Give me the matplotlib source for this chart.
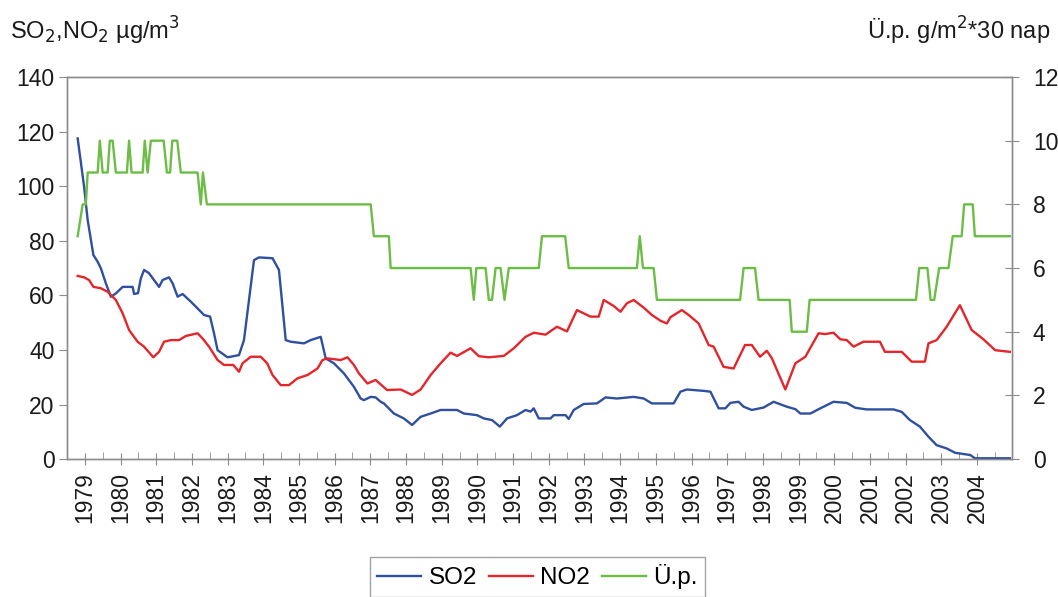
import matplotlib
matplotlib.use("Agg")
import matplotlib.pyplot as plt
from matplotlib.ticker import MultipleLocator

plt.rcParams['font.family'] = ['Liberation Sans', 'DejaVu Sans']

# SO2 (µg/m3), x in decimal years
so2_x = [1978.80, 1978.98, 1979.08, 1979.24, 1979.36, 1979.45, 1979.59, 1979.73,
         1979.87, 1980.06, 1980.34, 1980.38, 1980.49, 1980.57, 1980.66, 1980.80,
         1981.08, 1981.18, 1981.36, 1981.46, 1981.60, 1981.74, 1981.97, 1982.16,
         1982.34, 1982.51, 1982.62, 1982.72, 1983.00, 1983.32, 1983.46, 1983.74,
         1983.88, 1984.26, 1984.44, 1984.63, 1984.77, 1985.14, 1985.33, 1985.61,
         1985.75, 1985.98, 1986.26, 1986.54, 1986.73, 1986.82, 1987.01, 1987.15,
         1987.29, 1987.38, 1987.66, 1987.94, 1988.17, 1988.41, 1988.69, 1988.97,
         1989.43, 1989.62, 1989.99, 1990.18, 1990.41, 1990.63, 1990.83, 1991.11,
         1991.35, 1991.49, 1991.58, 1991.72, 1992.05, 1992.14, 1992.47, 1992.56,
         1992.70, 1992.98, 1993.35, 1993.59, 1993.91, 1994.38, 1994.66, 1994.89,
         1995.50, 1995.69, 1995.87, 1996.34, 1996.53, 1996.76, 1996.95, 1997.09,
         1997.32, 1997.46, 1997.69, 1998.02, 1998.30, 1998.67, 1998.91, 1999.05,
         1999.33, 1999.61, 1999.98, 2000.35, 2000.59, 2000.91, 2001.66, 2001.89,
         2002.12, 2002.40, 2002.64, 2002.87, 2003.15, 2003.39, 2003.81, 2003.94,
         2004.92]
so2_y = [117.5, 99.8, 87.6, 74.8, 72.3, 69.9, 64.4, 59.5,
         60.7, 63.1, 63.1, 60.5, 60.8, 66.2, 69.3, 68.1,
         63.1, 65.6, 66.6, 64.4, 59.5, 60.5, 57.7, 55.2,
         52.8, 52.2, 46.1, 39.9, 37.3, 38.1, 43.6, 72.9,
         73.9, 73.6, 69.3, 43.6, 43.0, 42.4, 43.6, 44.8,
         36.9, 35.1, 31.4, 26.5, 22.2, 21.6, 22.8, 22.6,
         21.0, 20.4, 16.7, 14.9, 12.5, 15.5, 16.7, 18.0,
         18.0, 16.7, 16.1, 14.9, 14.3, 11.9, 14.9, 16.1,
         18.0, 17.4, 18.6, 14.9, 14.9, 16.1, 16.1, 14.7,
         18.0, 20.2, 20.4, 22.6, 22.2, 22.8, 22.2, 20.4,
         20.4, 24.7, 25.5, 25.0, 24.7, 18.6, 18.6, 20.6,
         21.0, 19.2, 18.0, 18.9, 21.0, 19.2, 18.3, 16.7,
         16.7, 18.6, 21.0, 20.6, 18.8, 18.2, 18.2, 17.3,
         14.3, 11.9, 8.2, 5.1, 3.9, 2.3, 1.5, 0.3,
         0.3]

# NO2 (µg/m3)
no2_x = [1978.80, 1978.98, 1979.12, 1979.24, 1979.45, 1979.64, 1979.87, 1980.06,
         1980.24, 1980.48, 1980.66, 1980.92, 1981.08, 1981.22, 1981.41, 1981.64,
         1981.83, 1982.16, 1982.30, 1982.48, 1982.72, 1982.90, 1983.16, 1983.32,
         1983.42, 1983.65, 1983.93, 1984.11, 1984.26, 1984.49, 1984.72, 1984.96,
         1985.24, 1985.52, 1985.66, 1985.80, 1986.17, 1986.36, 1986.54, 1986.68,
         1986.92, 1987.15, 1987.47, 1987.85, 1988.17, 1988.41, 1988.69, 1988.97,
         1989.25, 1989.43, 1989.81, 1990.04, 1990.32, 1990.74, 1991.02, 1991.35,
         1991.58, 1991.91, 1992.23, 1992.51, 1992.79, 1993.17, 1993.40, 1993.54,
         1993.82, 1994.01, 1994.19, 1994.38, 1994.66, 1994.89, 1995.13, 1995.31,
         1995.41, 1995.73, 1995.92, 1996.20, 1996.48, 1996.62, 1996.90, 1997.18,
         1997.50, 1997.69, 1997.92, 1998.11, 1998.25, 1998.63, 1998.91, 1999.19,
         1999.56, 1999.74, 1999.98, 2000.17, 2000.35, 2000.54, 2000.82, 2001.28,
         2001.42, 2001.89, 2002.17, 2002.54, 2002.64, 2002.87, 2003.15, 2003.52,
         2003.85, 2004.18, 2004.51, 2004.92]
no2_y = [67.1, 66.6, 65.6, 63.1, 62.6, 61.3, 58.3, 53.4,
         47.3, 43.0, 41.2, 37.3, 39.3, 43.0, 43.6, 43.6,
         45.1, 46.1, 44.2, 41.2, 36.3, 34.5, 34.5, 32.0,
         35.1, 37.5, 37.5, 35.1, 30.8, 27.1, 27.1, 29.6,
         30.8, 33.2, 36.3, 36.9, 36.3, 37.3, 34.5, 31.4,
         27.7, 29.0, 25.3, 25.5, 23.5, 25.5, 30.8, 35.1,
         39.0, 37.8, 40.6, 37.7, 37.3, 37.8, 40.6, 44.8,
         46.3, 45.6, 48.5, 46.8, 54.6, 52.2, 52.2, 58.3,
         56.1, 54.0, 57.1, 58.3, 55.5, 52.8, 50.7, 49.7,
         52.0, 54.6, 52.8, 49.7, 41.8, 41.2, 33.8, 33.2,
         41.8, 41.8, 37.5, 39.7, 37.0, 25.5, 35.1, 37.5,
         46.1, 45.8, 46.3, 43.9, 43.6, 41.2, 43.0, 43.0,
         39.3, 39.3, 35.7, 35.7, 42.4, 43.6, 48.5, 56.4,
         47.3, 43.9, 39.9, 39.3]

# Ü.p. (g/m2*30 nap), right axis
up_x = [1978.80, 1978.94, 1979.03, 1979.08, 1979.36, 1979.42, 1979.50, 1979.64,
        1979.70, 1979.78, 1979.87, 1980.18, 1980.24, 1980.31, 1980.62, 1980.68,
        1980.76, 1980.85, 1981.21, 1981.30, 1981.39, 1981.45, 1981.59, 1981.69,
        1982.16, 1982.25, 1982.31, 1982.42, 1987.01, 1987.10, 1987.52, 1987.57,
        1989.81, 1989.90, 1989.97, 1990.23, 1990.32, 1990.41, 1990.51, 1990.65,
        1990.76, 1990.88, 1991.72, 1991.81, 1992.46, 1992.56, 1994.47, 1994.55,
        1994.64, 1994.94, 1995.03, 1997.36, 1997.46, 1997.78, 1997.88, 1998.75,
        1998.81, 1999.23, 1999.31, 2002.29, 2002.38, 2002.61, 2002.70, 2002.80,
        2002.94, 2003.20, 2003.32, 2003.57, 2003.64, 2003.88, 2003.94, 2004.92]
up_y = [7, 8, 8, 9, 9, 10, 9, 9,
        10, 10, 9, 9, 10, 9, 9, 10,
        9, 10, 10, 9, 9, 10, 10, 9,
        9, 8, 9, 8, 8, 7, 7, 6,
        6, 5, 6, 6, 5, 5, 6, 6,
        5, 6, 6, 7, 7, 6, 6, 7,
        6, 6, 5, 5, 6, 6, 5, 5,
        4, 4, 5, 5, 6, 6, 5, 5,
        6, 6, 7, 7, 8, 8, 7, 7]

years = list(range(1979, 2005))

fig = plt.figure(figsize=(10.58, 5.97), dpi=100)
ax = fig.add_axes([0.0633, 0.231, 0.8932, 0.640])
ax2 = ax.twinx()

grey = '#8c8c8c'
l1, = ax.plot(so2_x, so2_y, color='#2f4f9f', lw=1.7, label='SO2', zorder=3)
l2, = ax.plot(no2_x, no2_y, color='#e3262b', lw=1.7, label='NO2', zorder=3)
l3, = ax2.plot(up_x, up_y, color='#6cbd45', lw=1.7, label='Ü.p.')

ax.set_xlim(1978.52, 2004.98)
ax.set_ylim(0, 140)
ax2.set_ylim(0, 12)
ax.yaxis.set_major_locator(MultipleLocator(20))
ax2.yaxis.set_major_locator(MultipleLocator(2))
ax.set_xticks(years)
ax.set_xticklabels([str(y) for y in years], rotation=90)
ax.set_xticks([y + 0.5 for y in range(1978, 2005)], minor=True)

for a in (ax, ax2):
    for s in a.spines.values():
        s.set_color(grey)
        s.set_linewidth(1.0)

ax.tick_params(axis='y', direction='out', length=6, color=grey, labelsize=16.5,
               labelcolor='#1a1a1a', pad=3)
ax.tick_params(axis='x', which='major', direction='inout', length=9, color=grey,
               labelsize=16.5, labelcolor='#1a1a1a', pad=5)
ax.tick_params(axis='x', which='minor', direction='in', length=5, color=grey)
ax2.tick_params(axis='y', direction='inout', length=10, color=grey, labelsize=16.5,
                labelcolor='#1a1a1a', pad=10)

fig.text(0.009, 0.948, 'SO$_2$,NO$_2$ µg/m$^3$', fontsize=17, color='#1a1a1a',
         va='center', ha='left')
fig.text(0.993, 0.948, 'Ü.p. g/m$^2$*30 nap', fontsize=17, color='#1a1a1a',
         va='center', ha='right')

leg = fig.legend(handles=[l1, l2, l3], loc='upper center',
                 bbox_to_anchor=(0.508, 0.067), ncol=3, fontsize=17.5,
                 frameon=True, fancybox=False, handlelength=1.8,
                 handletextpad=0.3, columnspacing=0.5, borderpad=0.3,
                 borderaxespad=0)
leg.get_frame().set_edgecolor(grey)
leg.get_frame().set_linewidth(1.0)

fig.savefig('out.png', dpi=100)
